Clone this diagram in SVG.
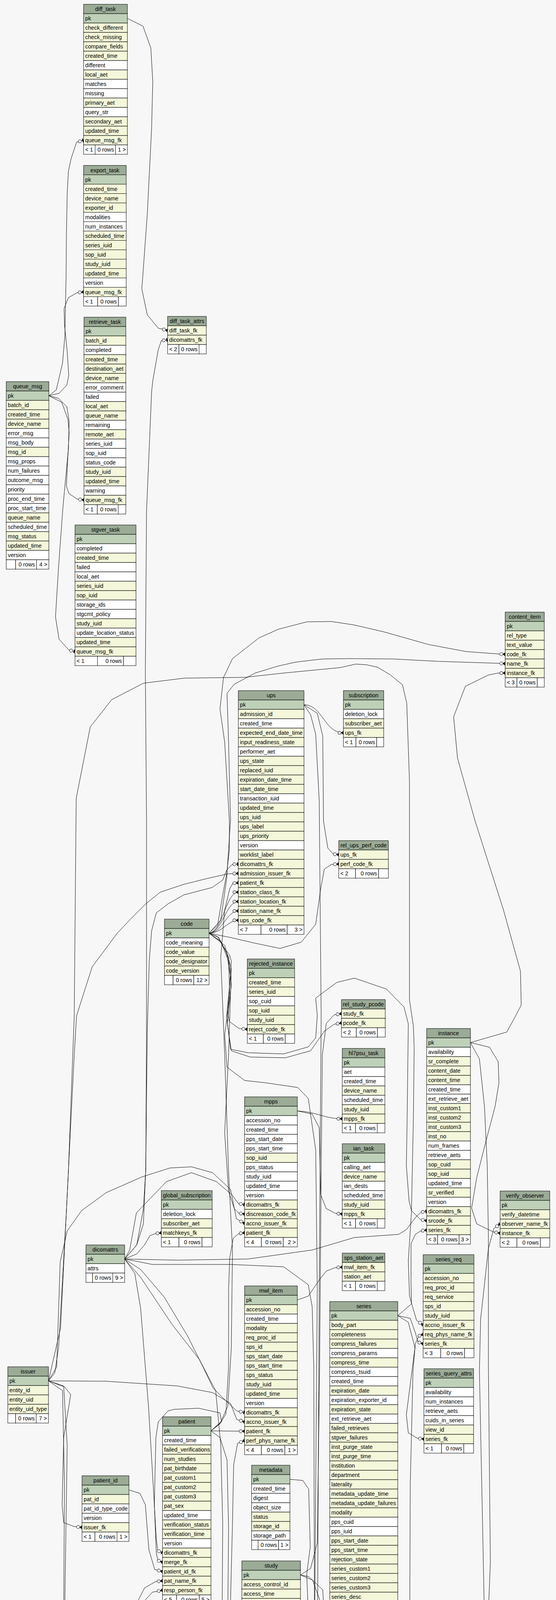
<svg xmlns="http://www.w3.org/2000/svg" width="1423" height="5169" viewBox="0 0 1423 5169">
<style>
.h{fill:#9bab96;stroke:#000;stroke-width:1}
.k{fill:#bed1b8;stroke:#000;stroke-width:1}
.y{fill:#f4f7da;stroke:#000;stroke-width:1}
.w{fill:#fff;stroke:#000;stroke-width:1}
text{font-family:"Liberation Sans",Arial,Helvetica,sans-serif;font-size:14.3px;fill:#000}
.c{text-anchor:middle}
.e{text-anchor:end}
#connectors path{fill:none;stroke:#000;stroke-width:1;stroke-linejoin:round}
</style>
<defs>
<marker id="crow" viewBox="-16 -7 17 14" refX="0" refY="0" markerWidth="17" markerHeight="14" orient="auto" markerUnits="userSpaceOnUse">
<circle cx="-10" cy="0" r="4" fill="#fff" stroke="#000"/>
<polygon points="-6,0 0,-4.5 -1.5,0 0,4.5" fill="#000" stroke="#000" stroke-width="0.8"/>
<path d="M-6,0 L0,0" fill="none" stroke="#000"/>
</marker>
<marker id="tee" viewBox="-16 -7 17 14" refX="0" refY="0" markerWidth="17" markerHeight="14" orient="auto" markerUnits="userSpaceOnUse">
<circle cx="-10" cy="0" r="4" fill="#fff" stroke="#000"/>
<path d="M-6,0 L0,0" fill="none" stroke="#000"/>
<rect x="-3.2" y="-4.5" width="2.6" height="9" fill="#000"/>
</marker>
</defs>
<rect width="1423" height="5169" fill="#f7f7f7"/>
<g id="connectors">
<path marker-end="url(#tee)" d="M125,1013 L144,998 L160,930 L166,860 L169,713 L170,603 L172,494 L175,439 L182,406 L196,364 L214,359"/>
<path marker-end="url(#crow)" d="M125,1013 L151,1007 L171,986 L176,961 L172,900 L165,830 L164,790 L175,762 L198,749 L214,747.5"/>
<path marker-end="url(#crow)" d="M125,1013 L158,1030 L174,1074 L177,1107 L172,1200 L170,1244 L176,1263 L198,1278 L215,1280"/>
<path marker-end="url(#tee)" d="M125,1013 L150,1020 L171,1041 L177,1079 L175,1150 L161,1299 L150,1450 L142,1579 L151,1636 L176,1664 L192,1668"/>
<path marker-end="url(#crow)" d="M326,47 L366,67 L386,123 L391,208 L388,329 L377,548 L363,740 L377,806 L405,840 L429,846"/>
<path marker-end="url(#tee)" d="M319,3223 L350,3187 L367,3133 L373,2995 L375,2640 L375,2100 L372,1720 L375,1310 L388,1003 L391,975 L405,895 L413,872 L429,870"/>
<path marker-end="url(#tee)" d="M319,3223 L350,3187 L367,3095 L373,2995 L377,2636 L382,2460 L388,2383 L400,2337 L430,2314 L470,2291 L543,2272 L570,2253 L580,2228 L594,2213 L610,2212"/>
<path marker-end="url(#crow)" d="M124,3535 L140,3515 L150,3450 L170,3100 L190,2700 L196,2600 L236,2475 L300,2389 L338,2349 L373,2314 L410,2284 L470,2264 L530,2249 L583,2237 L610,2236"/>
<path marker-end="url(#crow)" d="M540,3663 L565,3640 L583,3600 L592,3450 L595,3200 L585,3000 L575,2700 L565,2450 L575,2330 L588,2275 L596,2261 L610,2260"/>
<path marker-end="url(#crow)" d="M535,2389 C570,2385 578,2284 610,2284"/>
<path marker-end="url(#crow)" d="M535,2389 C570,2385 578,2308 610,2308"/>
<path marker-end="url(#crow)" d="M535,2389 C570,2387 580,2332 610,2332"/>
<path marker-end="url(#crow)" d="M535,2389 C570,2388 582,2356 610,2356"/>
<path marker-end="url(#crow)" d="M778,1804 C825,1804 830,1876 879,1876"/>
<path marker-end="url(#crow)" d="M778,1804 L812,1826 L826,1884 L828,2102 L839,2171 L852,2186 L867,2188"/>
<path marker-end="url(#crow)" d="M535,2389 L590,2400 L650,2414 L717,2428 L771,2412 L808,2366 L821,2274 L830,2225 L848,2213 L867,2212"/>
<path marker-end="url(#crow)" d="M778,1804 L795,1830 L808,1880 L817,2050 L822,2600 L817,3300 L812,4300 L825,4650 L848,4900 L853,5020 L856,5070 L866,5080"/>
<path marker-end="url(#crow)" d="M535,2389 L557,2368 L570,2291 L580,2238 L587,2177 L587,2100 L575,1900 L563,1815 L572,1734 L579,1720 L595,1686 L663,1633 L712,1611 L785,1592 L848,1591 L907,1600 L984,1618 L1097,1650 L1193,1668 L1274,1674 L1293,1675"/>
<path marker-end="url(#crow)" d="M535,2389 L565,2355 L580,2250 L590,2100 L585,1900 L581,1775 L599,1752 L653,1723 L712,1705 L757,1695 L825,1687 L893,1686 L1007,1687 L1120,1693 L1274,1698 L1293,1699"/>
<path marker-end="url(#crow)" d="M1204,2669 L1297,2642 L1320,2600 L1334,2573 L1332,2486 L1289,2331 L1216,2102 L1171,1941 L1161,1835 L1191,1757 L1250,1728 L1275,1723 L1293,1723"/>
<path marker-end="url(#crow)" d="M535,2389 L557,2398 L570,2421 L587,2444 L592,2460 L583,2590 L587,2615 L612,2633 L633,2635"/>
<path marker-end="url(#crow)" d="M769,4032 L795,4015 L812,3950 L818,3500 L822,3000 L825,2700 L835,2620 L855,2598 L874,2595"/>
<path marker-end="url(#crow)" d="M535,2389 L565,2410 L585,2450 L592,2520 L582,2620 L592,2690 L640,2706 L730,2708 L795,2690 L830,2640 L855,2622 L874,2619"/>
<path marker-end="url(#crow)" d="M761,2844 C810,2846 830,2864 876,2864"/>
<path marker-end="url(#crow)" d="M761,2844 L799,2852 L817,2887 L821,3059 L835,3094 L858,3106 L876,3108"/>
<path marker-end="url(#tee)" d="M319,3223 L332,3200 L349,3105 L426,3025 L490,3002 L554,3025 L594,3059 L610,3081 L626,3084"/>
<path marker-end="url(#crow)" d="M535,2389 L575,2420 L592,2480 L585,2700 L575,2900 L585,3050 L600,3095 L612,3106 L626,3108"/>
<path marker-end="url(#crow)" d="M124,3535 L145,3500 L154,3231 L172,3151 L209,3099 L272,3053 L363,3013 L435,2990 L490,2987 L544,3002 L590,3045 L605,3120 L626,3132"/>
<path marker-end="url(#crow)" d="M540,3663 L563,3645 L578,3620 L585,3500 L585,3300 L588,3220 L597,3170 L611,3158 L626,3156"/>
<path marker-end="url(#crow)" d="M319,3223 L350,3210 L370,3187 L383,3164 L397,3158 L413,3156"/>
<path marker-end="url(#tee)" d="M319,3223 L454,3226 L635,3223 L799,3200 L907,3168 L1020,3160 L1040,3148 L1063,3117 L1078,3103 L1092,3101"/>
<path marker-end="url(#crow)" d="M535,2389 L560,2400 L580,2440 L590,2500 L580,2600 L590,2686 L635,2695 L726,2698 L789,2680 L808,2657 L812,2600 L808,2555 L862,2515 L907,2504 L989,2532 L1034,2578 L1045,2621 L1042,2863 L1040,2984 L1047,3075 L1053,3099 L1076,3122 L1092,3125"/>
<path marker-end="url(#crow)" d="M1018,3368 L1053,3338 L1052,3287 L1052,3184 L1063,3160 L1077,3151 L1092,3149"/>
<path marker-end="url(#crow)" d="M325,4483 L358,4522 L380,4600 L400,4640 L440,4670 L540,4690 L575,4720 L588,4800 L600,4818 L817,4832 L1030,4830 L1053,4800 L1134,4716 L1200,4633 L1230,4550 L1234,4466 L1243,4300 L1235,3900 L1227,3510 L1230,3378 L1250,3196 L1264,3145 L1280,3133"/>
<path marker-end="url(#crow)" d="M1204,2669 L1253,2681 L1275,2718 L1277,2772 L1267,2833 L1243,2924 L1220,3015 L1207,3093 L1220,3133 L1263,3154 L1280,3157"/>
<path marker-end="url(#crow)" d="M761,3328 L789,3318 L817,3277 L835,3254 L858,3245 L876,3244"/>
<path marker-end="url(#crow)" d="M124,3535 L155,3400 L175,3000 L190,2600 L195,2044 L231,1861 L286,1791 L367,1749 L472,1736 L626,1734 L726,1723 L871,1709 L911,1700 L939,1702 L966,1708 L998,1727 L1030,1753 L1041,1800 L1048,2000 L1048,2560 L1058,2627 L1060,2681 L1058,2863 L1053,3105 L1045,3227 L1048,3318 L1066,3380 L1083,3392"/>
<path marker-end="url(#crow)" d="M325,4483 L358,4522 L377,4610 L417,4633 L460,4677 L490,4682 L545,4688 L581,4715 L590,4800 L599,4812 L690,4818 L908,4820 L1016,4800 L1034,4788 L1048,4300 L1050,3800 L1057,3510 L1063,3440 L1072,3420 L1083,3416"/>
<path marker-end="url(#crow)" d="M1018,3368 L1050,3375 L1063,3412 L1070,3436 L1083,3440"/>
<path marker-end="url(#tee)" d="M319,3223 L360,3250 L420,3320 L480,3420 L520,3500 L545,3553 L580,3588 L606,3612 L626,3616"/>
<path marker-end="url(#crow)" d="M124,3535 L272,3536 L454,3548 L544,3565 L590,3593 L606,3634 L626,3640"/>
<path marker-end="url(#crow)" d="M540,3663 L626,3664"/>
<path marker-end="url(#crow)" d="M325,4483 L363,4472 L411,4462 L450,4433 L479,4380 L581,4300 L590,4100 L595,3900 L598,3750 L608,3695 L626,3688"/>
<path marker-end="url(#tee)" d="M319,3223 L390,3237 L590,3237 L726,3243 L789,3289 L799,3346 L803,3500 L805,4200 L815,4320 L828,4348 L844,4352"/>
<path marker-end="url(#crow)" d="M535,2389 L565,2410 L585,2460 L588,2550 L575,2650 L581,2732 L626,2766 L680,2772 L762,2784 L789,2812 L808,2944 L812,3300 L808,3800 L805,4200 L812,4340 L826,4372 L844,4376"/>
<path marker-end="url(#crow)" d="M742,3787 L775,3790 L790,3812 L794,3960 L785,4030 L790,4150 L800,4300 L810,4370 L828,4396 L844,4400"/>
<path marker-end="url(#crow)" d="M325,4483 L353,4491 L370,4525 L382,4613 L375,4750 L370,4880 L385,4950 L402,4962 L528,4918 L625,4889 L722,4831 L785,4748 L809,4642 L819,4501 L826,4440 L832,4426 L844,4424"/>
<path marker-end="url(#crow)" d="M769,4032 L790,4036 L826,4070 L830,4139 L826,4282 L830,4350 L824,4400 L828,4440 L844,4448"/>
<path marker-end="url(#crow)" d="M1018,3368 L1045,3385 L1062,3450 L1040,3622 L1045,3668 L1068,3682 L1085,3684"/>
<path marker-end="url(#tee)" d="M319,3223 L345,3260 L360,3350 L368,3450 L380,3600 L392,3800 L400,3940 L404,3970 L416,3975"/>
<path marker-end="url(#crow)" d="M540,3663 L567,3640 L563,3617 L508,3605 L445,3608 L430,3612 L405,3640 L399,3680 L395,3852 L400,3975 L404,3995 L416,3999"/>
<path marker-end="url(#crow)" d="M330,3814 L358,3823 L372,3852 L381,3967 L396,4018 L416,4023"/>
<path marker-end="url(#crow)" d="M325,4483 L368,4472 L382,4443 L392,4409 L390,4380 L381,4355 L363,4300 L349,4150 L352,4100 L370,4065 L398,4049 L416,4047"/>
<path marker-end="url(#crow)" d="M325,4483 L360,4470 L385,4420 L380,4350 L366,4250 L360,4150 L368,4100 L390,4076 L416,4071"/>
<path marker-end="url(#crow)" d="M124,3535 L163,3548 L181,3570 L163,3680 L159,3852 L163,3898 L190,3908 L210,3910"/>
<path marker-end="url(#tee)" d="M319,3223 L360,3270 L440,3390 L510,3480 L552,3560 L565,3700 L570,3900 L567,4380 L567,4525 L576,4583 L596,4622 L619,4632"/>
<path marker-end="url(#crow)" d="M124,3535 L163,3550 L172,3700 L163,4300 L165,4800 L179,4894 L237,4937 L334,4971 L402,4965 L470,4948 L548,4895 L580,4830 L596,4740 L602,4675 L619,4656"/>
<path marker-end="url(#crow)" d="M540,3663 L563,3680 L581,3737 L585,3910 L581,4350 L585,4580 L596,4650 L604,4676 L619,4680"/>
<path marker-end="url(#crow)" d="M325,4483 L431,4520 L479,4564 L528,4608 L566,4642 L586,4680 L603,4700 L619,4704"/>
<path marker-end="url(#crow)" d="M1204,2669 L1227,2711 L1240,2833 L1247,2984 L1250,3166 L1250,3500 L1255,4000 L1243,4300 L1250,4400 L1275,4462 L1294,4472"/>
<path marker-end="url(#crow)" d="M1197,4912 L1239,4899 L1261,4876 L1266,4800 L1225,4577 L1230,4510 L1270,4498 L1294,4496"/>
<path marker-end="url(#crow)" d="M325,4483 L368,4500 L392,4525 L395,4574 L380,4650 L368,4719 L356,4792 L368,4826 L400,4842 L416,4844"/>
<path marker-end="url(#crow)" d="M769,4032 L800,4045 L820,4100 L825,4300 L815,4500 L818,4650 L830,4710 L850,4736 L870,4740"/>
<path marker-end="url(#crow)" d="M124,3535 L160,3560 L165,3800 L162,4300 L162,4816 L167,4923 L179,4976 L237,5025 L324,5073 L421,5078 L600,5064 L722,5039 L850,5032 L866,5032"/>
<path marker-end="url(#crow)" d="M325,4483 L353,4491 L372,4530 L380,4650 L372,4800 L375,4900 L390,4960 L420,4990 L480,5020 L605,5060 L850,5055 L866,5056"/>
</g>
<g id="diff_task" transform="translate(214,11)">
<rect class="h" width="112" height="24"/><text class="c" x="56" y="17">diff_task</text>
<rect class="k" y="24" width="112" height="24"/><text x="4" y="41">pk</text>
<rect class="y" y="48" width="112" height="24"/><text x="4" y="65">check_different</text>
<rect class="y" y="72" width="112" height="24"/><text x="4" y="89">check_missing</text>
<rect class="y" y="96" width="112" height="24"/><text x="4" y="113">compare_fields</text>
<rect class="y" y="120" width="112" height="24"/><text x="4" y="137">created_time</text>
<rect class="w" y="144" width="112" height="24"/><text x="4" y="161">different</text>
<rect class="y" y="168" width="112" height="24"/><text x="4" y="185">local_aet</text>
<rect class="w" y="192" width="112" height="24"/><text x="4" y="209">matches</text>
<rect class="w" y="216" width="112" height="24"/><text x="4" y="233">missing</text>
<rect class="y" y="240" width="112" height="24"/><text x="4" y="257">primary_aet</text>
<rect class="w" y="264" width="112" height="24"/><text x="4" y="281">query_str</text>
<rect class="y" y="288" width="112" height="24"/><text x="4" y="305">secondary_aet</text>
<rect class="y" y="312" width="112" height="24"/><text x="4" y="329">updated_time</text>
<rect class="y" y="336" width="112" height="24"/><text x="4" y="353">queue_msg_fk</text>
<rect class="w" y="360" width="29.5" height="24"/><rect class="w" x="29.5" y="360" width="52.1" height="24"/><rect class="w" x="81.6" y="360" width="30.4" height="24"/>
<text x="4" y="377">&lt; 1</text><text class="e" x="77.6" y="377">0 rows</text><text class="e" x="108" y="377">1 &gt;</text>
</g>
<g id="export_task" transform="translate(214,423.5)">
<rect class="h" width="109" height="24"/><text class="c" x="54.5" y="17">export_task</text>
<rect class="k" y="24" width="109" height="24"/><text x="4" y="41">pk</text>
<rect class="y" y="48" width="109" height="24"/><text x="4" y="65">created_time</text>
<rect class="y" y="72" width="109" height="24"/><text x="4" y="89">device_name</text>
<rect class="y" y="96" width="109" height="24"/><text x="4" y="113">exporter_id</text>
<rect class="w" y="120" width="109" height="24"/><text x="4" y="137">modalities</text>
<rect class="w" y="144" width="109" height="24"/><text x="4" y="161">num_instances</text>
<rect class="y" y="168" width="109" height="24"/><text x="4" y="185">scheduled_time</text>
<rect class="y" y="192" width="109" height="24"/><text x="4" y="209">series_iuid</text>
<rect class="y" y="216" width="109" height="24"/><text x="4" y="233">sop_iuid</text>
<rect class="y" y="240" width="109" height="24"/><text x="4" y="257">study_iuid</text>
<rect class="y" y="264" width="109" height="24"/><text x="4" y="281">updated_time</text>
<rect class="w" y="288" width="109" height="24"/><text x="4" y="305">version</text>
<rect class="y" y="312" width="109" height="24"/><text x="4" y="329">queue_msg_fk</text>
<rect class="w" y="336" width="36" height="24"/><rect class="w" x="36" y="336" width="53" height="24"/><rect class="w" x="89" y="336" width="20" height="24"/>
<text x="4" y="353">&lt; 1</text><text class="e" x="85" y="353">0 rows</text>
</g>
<g id="retrieve_task" transform="translate(215,812)">
<rect class="h" width="107" height="24"/><text class="c" x="53.5" y="17">retrieve_task</text>
<rect class="k" y="24" width="107" height="24"/><text x="4" y="41">pk</text>
<rect class="y" y="48" width="107" height="24"/><text x="4" y="65">batch_id</text>
<rect class="w" y="72" width="107" height="24"/><text x="4" y="89">completed</text>
<rect class="y" y="96" width="107" height="24"/><text x="4" y="113">created_time</text>
<rect class="y" y="120" width="107" height="24"/><text x="4" y="137">destination_aet</text>
<rect class="y" y="144" width="107" height="24"/><text x="4" y="161">device_name</text>
<rect class="w" y="168" width="107" height="24"/><text x="4" y="185">error_comment</text>
<rect class="w" y="192" width="107" height="24"/><text x="4" y="209">failed</text>
<rect class="y" y="216" width="107" height="24"/><text x="4" y="233">local_aet</text>
<rect class="y" y="240" width="107" height="24"/><text x="4" y="257">queue_name</text>
<rect class="w" y="264" width="107" height="24"/><text x="4" y="281">remaining</text>
<rect class="y" y="288" width="107" height="24"/><text x="4" y="305">remote_aet</text>
<rect class="w" y="312" width="107" height="24"/><text x="4" y="329">series_iuid</text>
<rect class="w" y="336" width="107" height="24"/><text x="4" y="353">sop_iuid</text>
<rect class="w" y="360" width="107" height="24"/><text x="4" y="377">status_code</text>
<rect class="y" y="384" width="107" height="24"/><text x="4" y="401">study_iuid</text>
<rect class="y" y="408" width="107" height="24"/><text x="4" y="425">updated_time</text>
<rect class="w" y="432" width="107" height="24"/><text x="4" y="449">warning</text>
<rect class="y" y="456" width="107" height="24"/><text x="4" y="473">queue_msg_fk</text>
<rect class="w" y="480" width="34" height="24"/><rect class="w" x="34" y="480" width="53.5" height="24"/><rect class="w" x="87.5" y="480" width="19.5" height="24"/>
<text x="4" y="497">&lt; 1</text><text class="e" x="83.5" y="497">0 rows</text>
</g>
<g id="diff_task_attrs" transform="translate(429,810)">
<rect class="h" width="99" height="24"/><text class="c" x="49.5" y="17">diff_task_attrs</text>
<rect class="y" y="24" width="99" height="24"/><text x="4" y="41">diff_task_fk</text>
<rect class="y" y="48" width="99" height="24"/><text x="4" y="65">dicomattrs_fk</text>
<rect class="w" y="72" width="29" height="24"/><rect class="w" x="29" y="72" width="51.5" height="24"/><rect class="w" x="80.5" y="72" width="18.5" height="24"/>
<text x="4" y="89">&lt; 2</text><text class="e" x="76.5" y="89">0 rows</text>
</g>
<g id="queue_msg" transform="translate(16,977)">
<rect class="h" width="109" height="24"/><text class="c" x="54.5" y="17">queue_msg</text>
<rect class="k" y="24" width="109" height="24"/><text x="4" y="41">pk</text>
<rect class="y" y="48" width="109" height="24"/><text x="4" y="65">batch_id</text>
<rect class="y" y="72" width="109" height="24"/><text x="4" y="89">created_time</text>
<rect class="y" y="96" width="109" height="24"/><text x="4" y="113">device_name</text>
<rect class="w" y="120" width="109" height="24"/><text x="4" y="137">error_msg</text>
<rect class="w" y="144" width="109" height="24"/><text x="4" y="161">msg_body</text>
<rect class="y" y="168" width="109" height="24"/><text x="4" y="185">msg_id</text>
<rect class="w" y="192" width="109" height="24"/><text x="4" y="209">msg_props</text>
<rect class="w" y="216" width="109" height="24"/><text x="4" y="233">num_failures</text>
<rect class="w" y="240" width="109" height="24"/><text x="4" y="257">outcome_msg</text>
<rect class="w" y="264" width="109" height="24"/><text x="4" y="281">priority</text>
<rect class="w" y="288" width="109" height="24"/><text x="4" y="305">proc_end_time</text>
<rect class="w" y="312" width="109" height="24"/><text x="4" y="329">proc_start_time</text>
<rect class="y" y="336" width="109" height="24"/><text x="4" y="353">queue_name</text>
<rect class="w" y="360" width="109" height="24"/><text x="4" y="377">scheduled_time</text>
<rect class="y" y="384" width="109" height="24"/><text x="4" y="401">msg_status</text>
<rect class="y" y="408" width="109" height="24"/><text x="4" y="425">updated_time</text>
<rect class="w" y="432" width="109" height="24"/><text x="4" y="449">version</text>
<rect class="w" y="456" width="24" height="24"/><rect class="w" x="24" y="456" width="53.5" height="24"/><rect class="w" x="77.5" y="456" width="31.5" height="24"/>
<text class="e" x="73.5" y="473">0 rows</text><text class="e" x="105" y="473">4 &gt;</text>
</g>
<g id="stgver_task" transform="translate(192,1344)">
<rect class="h" width="156" height="24"/><text class="c" x="78" y="17">stgver_task</text>
<rect class="k" y="24" width="156" height="24"/><text x="4" y="41">pk</text>
<rect class="w" y="48" width="156" height="24"/><text x="4" y="65">completed</text>
<rect class="y" y="72" width="156" height="24"/><text x="4" y="89">created_time</text>
<rect class="w" y="96" width="156" height="24"/><text x="4" y="113">failed</text>
<rect class="w" y="120" width="156" height="24"/><text x="4" y="137">local_aet</text>
<rect class="y" y="144" width="156" height="24"/><text x="4" y="161">series_iuid</text>
<rect class="y" y="168" width="156" height="24"/><text x="4" y="185">sop_iuid</text>
<rect class="w" y="192" width="156" height="24"/><text x="4" y="209">storage_ids</text>
<rect class="w" y="216" width="156" height="24"/><text x="4" y="233">stgcmt_policy</text>
<rect class="y" y="240" width="156" height="24"/><text x="4" y="257">study_iuid</text>
<rect class="w" y="264" width="156" height="24"/><text x="4" y="281">update_location_status</text>
<rect class="y" y="288" width="156" height="24"/><text x="4" y="305">updated_time</text>
<rect class="y" y="312" width="156" height="24"/><text x="4" y="329">queue_msg_fk</text>
<rect class="w" y="336" width="57.5" height="24"/><rect class="w" x="57.5" y="336" width="66.5" height="24"/><rect class="w" x="124" y="336" width="32" height="24"/>
<text x="4" y="353">&lt; 1</text><text class="e" x="120" y="353">0 rows</text>
</g>
<g id="ups" transform="translate(610,1768)">
<rect class="h" width="168" height="24"/><text class="c" x="84" y="17">ups</text>
<rect class="k" y="24" width="168" height="24"/><text x="4" y="41">pk</text>
<rect class="y" y="48" width="168" height="24"/><text x="4" y="65">admission_id</text>
<rect class="w" y="72" width="168" height="24"/><text x="4" y="89">created_time</text>
<rect class="y" y="96" width="168" height="24"/><text x="4" y="113">expected_end_date_time</text>
<rect class="y" y="120" width="168" height="24"/><text x="4" y="137">input_readiness_state</text>
<rect class="w" y="144" width="168" height="24"/><text x="4" y="161">performer_aet</text>
<rect class="y" y="168" width="168" height="24"/><text x="4" y="185">ups_state</text>
<rect class="y" y="192" width="168" height="24"/><text x="4" y="209">replaced_iuid</text>
<rect class="y" y="216" width="168" height="24"/><text x="4" y="233">expiration_date_time</text>
<rect class="y" y="240" width="168" height="24"/><text x="4" y="257">start_date_time</text>
<rect class="w" y="264" width="168" height="24"/><text x="4" y="281">transaction_iuid</text>
<rect class="y" y="288" width="168" height="24"/><text x="4" y="305">updated_time</text>
<rect class="y" y="312" width="168" height="24"/><text x="4" y="329">ups_iuid</text>
<rect class="y" y="336" width="168" height="24"/><text x="4" y="353">ups_label</text>
<rect class="y" y="360" width="168" height="24"/><text x="4" y="377">ups_priority</text>
<rect class="w" y="384" width="168" height="24"/><text x="4" y="401">version</text>
<rect class="y" y="408" width="168" height="24"/><text x="4" y="425">worklist_label</text>
<rect class="y" y="432" width="168" height="24"/><text x="4" y="449">dicomattrs_fk</text>
<rect class="y" y="456" width="168" height="24"/><text x="4" y="473">admission_issuer_fk</text>
<rect class="y" y="480" width="168" height="24"/><text x="4" y="497">patient_fk</text>
<rect class="y" y="504" width="168" height="24"/><text x="4" y="521">station_class_fk</text>
<rect class="y" y="528" width="168" height="24"/><text x="4" y="545">station_location_fk</text>
<rect class="y" y="552" width="168" height="24"/><text x="4" y="569">station_name_fk</text>
<rect class="y" y="576" width="168" height="24"/><text x="4" y="593">ups_code_fk</text>
<rect class="w" y="600" width="58" height="24"/><rect class="w" x="58" y="600" width="67" height="24"/><rect class="w" x="125" y="600" width="43" height="24"/>
<text x="4" y="617">&lt; 7</text><text class="e" x="121" y="617">0 rows</text><text class="e" x="164" y="617">3 &gt;</text>
</g>
<g id="subscription" transform="translate(879,1768)">
<rect class="h" width="103" height="24"/><text class="c" x="51.5" y="17">subscription</text>
<rect class="k" y="24" width="103" height="24"/><text x="4" y="41">pk</text>
<rect class="w" y="48" width="103" height="24"/><text x="4" y="65">deletion_lock</text>
<rect class="y" y="72" width="103" height="24"/><text x="4" y="89">subscriber_aet</text>
<rect class="y" y="96" width="103" height="24"/><text x="4" y="113">ups_fk</text>
<rect class="w" y="120" width="32" height="24"/><rect class="w" x="32" y="120" width="53" height="24"/><rect class="w" x="85" y="120" width="18" height="24"/>
<text x="4" y="137">&lt; 1</text><text class="e" x="81" y="137">0 rows</text>
</g>
<g id="rel_ups_perf_code" transform="translate(867,2152)">
<rect class="h" width="127" height="24"/><text class="c" x="63.5" y="17">rel_ups_perf_code</text>
<rect class="y" y="24" width="127" height="24"/><text x="4" y="41">ups_fk</text>
<rect class="y" y="48" width="127" height="24"/><text x="4" y="65">perf_code_fk</text>
<rect class="w" y="72" width="43" height="24"/><rect class="w" x="43" y="72" width="59" height="24"/><rect class="w" x="102" y="72" width="25" height="24"/>
<text x="4" y="89">&lt; 2</text><text class="e" x="98" y="89">0 rows</text>
</g>
<g id="code" transform="translate(421,2353)">
<rect class="h" width="114" height="24"/><text class="c" x="57" y="17">code</text>
<rect class="k" y="24" width="114" height="24"/><text x="4" y="41">pk</text>
<rect class="w" y="48" width="114" height="24"/><text x="4" y="65">code_meaning</text>
<rect class="y" y="72" width="114" height="24"/><text x="4" y="89">code_value</text>
<rect class="y" y="96" width="114" height="24"/><text x="4" y="113">code_designator</text>
<rect class="y" y="120" width="114" height="24"/><text x="4" y="137">code_version</text>
<rect class="w" y="144" width="22" height="24"/><rect class="w" x="22" y="144" width="53" height="24"/><rect class="w" x="75" y="144" width="39" height="24"/>
<text class="e" x="71" y="161">0 rows</text><text class="e" x="110" y="161">12 &gt;</text>
</g>
<g id="content_item" transform="translate(1293,1567)">
<rect class="h" width="100" height="24"/><text class="c" x="50" y="17">content_item</text>
<rect class="k" y="24" width="100" height="24"/><text x="4" y="41">pk</text>
<rect class="y" y="48" width="100" height="24"/><text x="4" y="65">rel_type</text>
<rect class="y" y="72" width="100" height="24"/><text x="4" y="89">text_value</text>
<rect class="y" y="96" width="100" height="24"/><text x="4" y="113">code_fk</text>
<rect class="y" y="120" width="100" height="24"/><text x="4" y="137">name_fk</text>
<rect class="y" y="144" width="100" height="24"/><text x="4" y="161">instance_fk</text>
<rect class="w" y="168" width="30" height="24"/><rect class="w" x="30" y="168" width="52" height="24"/><rect class="w" x="82" y="168" width="18" height="24"/>
<text x="4" y="185">&lt; 3</text><text class="e" x="78" y="185">0 rows</text>
</g>
<g id="rejected_instance" transform="translate(633,2455)">
<rect class="h" width="121" height="24"/><text class="c" x="60.5" y="17">rejected_instance</text>
<rect class="k" y="24" width="121" height="24"/><text x="4" y="41">pk</text>
<rect class="y" y="48" width="121" height="24"/><text x="4" y="65">created_time</text>
<rect class="y" y="72" width="121" height="24"/><text x="4" y="89">series_iuid</text>
<rect class="w" y="96" width="121" height="24"/><text x="4" y="113">sop_cuid</text>
<rect class="y" y="120" width="121" height="24"/><text x="4" y="137">sop_iuid</text>
<rect class="y" y="144" width="121" height="24"/><text x="4" y="161">study_iuid</text>
<rect class="y" y="168" width="121" height="24"/><text x="4" y="185">reject_code_fk</text>
<rect class="w" y="192" width="41" height="24"/><rect class="w" x="41" y="192" width="56" height="24"/><rect class="w" x="97" y="192" width="24" height="24"/>
<text x="4" y="209">&lt; 1</text><text class="e" x="93" y="209">0 rows</text>
</g>
<g id="rel_study_pcode" transform="translate(874,2559)">
<rect class="h" width="112" height="24"/><text class="c" x="56" y="17">rel_study_pcode</text>
<rect class="y" y="24" width="112" height="24"/><text x="4" y="41">study_fk</text>
<rect class="y" y="48" width="112" height="24"/><text x="4" y="65">pcode_fk</text>
<rect class="w" y="72" width="38" height="24"/><rect class="w" x="38" y="72" width="54" height="24"/><rect class="w" x="92" y="72" width="20" height="24"/>
<text x="4" y="89">&lt; 2</text><text class="e" x="88" y="89">0 rows</text>
</g>
<g id="hl7psu_task" transform="translate(876,2684)">
<rect class="h" width="109" height="24"/><text class="c" x="54.5" y="17">hl7psu_task</text>
<rect class="k" y="24" width="109" height="24"/><text x="4" y="41">pk</text>
<rect class="w" y="48" width="109" height="24"/><text x="4" y="65">aet</text>
<rect class="w" y="72" width="109" height="24"/><text x="4" y="89">created_time</text>
<rect class="y" y="96" width="109" height="24"/><text x="4" y="113">device_name</text>
<rect class="w" y="120" width="109" height="24"/><text x="4" y="137">scheduled_time</text>
<rect class="y" y="144" width="109" height="24"/><text x="4" y="161">study_iuid</text>
<rect class="y" y="168" width="109" height="24"/><text x="4" y="185">mpps_fk</text>
<rect class="w" y="192" width="34" height="24"/><rect class="w" x="34" y="192" width="55.5" height="24"/><rect class="w" x="89.5" y="192" width="19.5" height="24"/>
<text x="4" y="209">&lt; 1</text><text class="e" x="85.5" y="209">0 rows</text>
</g>
<g id="ian_task" transform="translate(876,2928)">
<rect class="h" width="109" height="24"/><text class="c" x="54.5" y="17">ian_task</text>
<rect class="k" y="24" width="109" height="24"/><text x="4" y="41">pk</text>
<rect class="w" y="48" width="109" height="24"/><text x="4" y="65">calling_aet</text>
<rect class="y" y="72" width="109" height="24"/><text x="4" y="89">device_name</text>
<rect class="w" y="96" width="109" height="24"/><text x="4" y="113">ian_dests</text>
<rect class="w" y="120" width="109" height="24"/><text x="4" y="137">scheduled_time</text>
<rect class="y" y="144" width="109" height="24"/><text x="4" y="161">study_iuid</text>
<rect class="y" y="168" width="109" height="24"/><text x="4" y="185">mpps_fk</text>
<rect class="w" y="192" width="34" height="24"/><rect class="w" x="34" y="192" width="55.5" height="24"/><rect class="w" x="89.5" y="192" width="19.5" height="24"/>
<text x="4" y="209">&lt; 1</text><text class="e" x="85.5" y="209">0 rows</text>
</g>
<g id="mpps" transform="translate(626,2808)">
<rect class="h" width="135" height="24"/><text class="c" x="67.5" y="17">mpps</text>
<rect class="k" y="24" width="135" height="24"/><text x="4" y="41">pk</text>
<rect class="w" y="48" width="135" height="24"/><text x="4" y="65">accession_no</text>
<rect class="w" y="72" width="135" height="24"/><text x="4" y="89">created_time</text>
<rect class="w" y="96" width="135" height="24"/><text x="4" y="113">pps_start_date</text>
<rect class="w" y="120" width="135" height="24"/><text x="4" y="137">pps_start_time</text>
<rect class="y" y="144" width="135" height="24"/><text x="4" y="161">sop_iuid</text>
<rect class="w" y="168" width="135" height="24"/><text x="4" y="185">pps_status</text>
<rect class="w" y="192" width="135" height="24"/><text x="4" y="209">study_iuid</text>
<rect class="w" y="216" width="135" height="24"/><text x="4" y="233">updated_time</text>
<rect class="w" y="240" width="135" height="24"/><text x="4" y="257">version</text>
<rect class="y" y="264" width="135" height="24"/><text x="4" y="281">dicomattrs_fk</text>
<rect class="y" y="288" width="135" height="24"/><text x="4" y="305">discreason_code_fk</text>
<rect class="y" y="312" width="135" height="24"/><text x="4" y="329">accno_issuer_fk</text>
<rect class="y" y="336" width="135" height="24"/><text x="4" y="353">patient_fk</text>
<rect class="w" y="360" width="43" height="24"/><rect class="w" x="43" y="360" width="56" height="24"/><rect class="w" x="99" y="360" width="36" height="24"/>
<text x="4" y="377">&lt; 4</text><text class="e" x="95" y="377">0 rows</text><text class="e" x="131" y="377">2 &gt;</text>
</g>
<g id="global_subscription" transform="translate(413,3048)">
<rect class="h" width="130" height="24"/><text class="c" x="65" y="17">global_subscription</text>
<rect class="k" y="24" width="130" height="24"/><text x="4" y="41">pk</text>
<rect class="w" y="48" width="130" height="24"/><text x="4" y="65">deletion_lock</text>
<rect class="y" y="72" width="130" height="24"/><text x="4" y="89">subscriber_aet</text>
<rect class="y" y="96" width="130" height="24"/><text x="4" y="113">matchkeys_fk</text>
<rect class="w" y="120" width="45" height="24"/><rect class="w" x="45" y="120" width="59" height="24"/><rect class="w" x="104" y="120" width="26" height="24"/>
<text x="4" y="137">&lt; 1</text><text class="e" x="100" y="137">0 rows</text>
</g>
<g id="dicomattrs" transform="translate(220,3187)">
<rect class="h" width="99" height="24"/><text class="c" x="49.5" y="17">dicomattrs</text>
<rect class="k" y="24" width="99" height="24"/><text x="4" y="41">pk</text>
<rect class="w" y="48" width="99" height="24"/><text x="4" y="65">attrs</text>
<rect class="w" y="72" width="17" height="24"/><rect class="w" x="17" y="72" width="51.6" height="24"/><rect class="w" x="68.6" y="72" width="30.4" height="24"/>
<text class="e" x="64.6" y="89">0 rows</text><text class="e" x="95" y="89">9 &gt;</text>
</g>
<g id="instance" transform="translate(1092,2633)">
<rect class="h" width="112" height="24"/><text class="c" x="56" y="17">instance</text>
<rect class="k" y="24" width="112" height="24"/><text x="4" y="41">pk</text>
<rect class="w" y="48" width="112" height="24"/><text x="4" y="65">availability</text>
<rect class="y" y="72" width="112" height="24"/><text x="4" y="89">sr_complete</text>
<rect class="y" y="96" width="112" height="24"/><text x="4" y="113">content_date</text>
<rect class="y" y="120" width="112" height="24"/><text x="4" y="137">content_time</text>
<rect class="w" y="144" width="112" height="24"/><text x="4" y="161">created_time</text>
<rect class="w" y="168" width="112" height="24"/><text x="4" y="185">ext_retrieve_aet</text>
<rect class="y" y="192" width="112" height="24"/><text x="4" y="209">inst_custom1</text>
<rect class="y" y="216" width="112" height="24"/><text x="4" y="233">inst_custom2</text>
<rect class="y" y="240" width="112" height="24"/><text x="4" y="257">inst_custom3</text>
<rect class="y" y="264" width="112" height="24"/><text x="4" y="281">inst_no</text>
<rect class="w" y="288" width="112" height="24"/><text x="4" y="305">num_frames</text>
<rect class="w" y="312" width="112" height="24"/><text x="4" y="329">retrieve_aets</text>
<rect class="y" y="336" width="112" height="24"/><text x="4" y="353">sop_cuid</text>
<rect class="y" y="360" width="112" height="24"/><text x="4" y="377">sop_iuid</text>
<rect class="w" y="384" width="112" height="24"/><text x="4" y="401">updated_time</text>
<rect class="y" y="408" width="112" height="24"/><text x="4" y="425">sr_verified</text>
<rect class="w" y="432" width="112" height="24"/><text x="4" y="449">version</text>
<rect class="y" y="456" width="112" height="24"/><text x="4" y="473">dicomattrs_fk</text>
<rect class="y" y="480" width="112" height="24"/><text x="4" y="497">srcode_fk</text>
<rect class="y" y="504" width="112" height="24"/><text x="4" y="521">series_fk</text>
<rect class="w" y="528" width="28" height="24"/><rect class="w" x="28" y="528" width="55" height="24"/><rect class="w" x="83" y="528" width="29" height="24"/>
<text x="4" y="545">&lt; 3</text><text class="e" x="79" y="545">0 rows</text><text class="e" x="108" y="545">3 &gt;</text>
</g>
<g id="verify_observer" transform="translate(1280,3049)">
<rect class="h" width="127" height="24"/><text class="c" x="63.5" y="17">verify_observer</text>
<rect class="k" y="24" width="127" height="24"/><text x="4" y="41">pk</text>
<rect class="y" y="48" width="127" height="24"/><text x="4" y="65">verify_datetime</text>
<rect class="y" y="72" width="127" height="24"/><text x="4" y="89">observer_name_fk</text>
<rect class="y" y="96" width="127" height="24"/><text x="4" y="113">instance_fk</text>
<rect class="w" y="120" width="43" height="24"/><rect class="w" x="43" y="120" width="60" height="24"/><rect class="w" x="103" y="120" width="24" height="24"/>
<text x="4" y="137">&lt; 2</text><text class="e" x="99" y="137">0 rows</text>
</g>
<g id="sps_station_aet" transform="translate(876,3208)">
<rect class="h" width="109" height="24"/><text class="c" x="54.5" y="17">sps_station_aet</text>
<rect class="y" y="24" width="109" height="24"/><text x="4" y="41">mwl_item_fk</text>
<rect class="y" y="48" width="109" height="24"/><text x="4" y="65">station_aet</text>
<rect class="w" y="72" width="34" height="24"/><rect class="w" x="34" y="72" width="55.5" height="24"/><rect class="w" x="89.5" y="72" width="19.5" height="24"/>
<text x="4" y="89">&lt; 1</text><text class="e" x="85.5" y="89">0 rows</text>
</g>
<g id="series_req" transform="translate(1083,3212)">
<rect class="h" width="130" height="24"/><text class="c" x="65" y="17">series_req</text>
<rect class="k" y="24" width="130" height="24"/><text x="4" y="41">pk</text>
<rect class="y" y="48" width="130" height="24"/><text x="4" y="65">accession_no</text>
<rect class="y" y="72" width="130" height="24"/><text x="4" y="89">req_proc_id</text>
<rect class="y" y="96" width="130" height="24"/><text x="4" y="113">req_service</text>
<rect class="y" y="120" width="130" height="24"/><text x="4" y="137">sps_id</text>
<rect class="y" y="144" width="130" height="24"/><text x="4" y="161">study_iuid</text>
<rect class="y" y="168" width="130" height="24"/><text x="4" y="185">accno_issuer_fk</text>
<rect class="y" y="192" width="130" height="24"/><text x="4" y="209">req_phys_name_fk</text>
<rect class="y" y="216" width="130" height="24"/><text x="4" y="233">series_fk</text>
<rect class="w" y="240" width="45" height="24"/><rect class="w" x="45" y="240" width="61" height="24"/><rect class="w" x="106" y="240" width="24" height="24"/>
<text x="4" y="257">&lt; 3</text><text class="e" x="102" y="257">0 rows</text>
</g>
<g id="mwl_item" transform="translate(626,3292)">
<rect class="h" width="135" height="24"/><text class="c" x="67.5" y="17">mwl_item</text>
<rect class="k" y="24" width="135" height="24"/><text x="4" y="41">pk</text>
<rect class="y" y="48" width="135" height="24"/><text x="4" y="65">accession_no</text>
<rect class="w" y="72" width="135" height="24"/><text x="4" y="89">created_time</text>
<rect class="y" y="96" width="135" height="24"/><text x="4" y="113">modality</text>
<rect class="y" y="120" width="135" height="24"/><text x="4" y="137">req_proc_id</text>
<rect class="y" y="144" width="135" height="24"/><text x="4" y="161">sps_id</text>
<rect class="y" y="168" width="135" height="24"/><text x="4" y="185">sps_start_date</text>
<rect class="y" y="192" width="135" height="24"/><text x="4" y="209">sps_start_time</text>
<rect class="y" y="216" width="135" height="24"/><text x="4" y="233">sps_status</text>
<rect class="y" y="240" width="135" height="24"/><text x="4" y="257">study_iuid</text>
<rect class="y" y="264" width="135" height="24"/><text x="4" y="281">updated_time</text>
<rect class="w" y="288" width="135" height="24"/><text x="4" y="305">version</text>
<rect class="y" y="312" width="135" height="24"/><text x="4" y="329">dicomattrs_fk</text>
<rect class="y" y="336" width="135" height="24"/><text x="4" y="353">accno_issuer_fk</text>
<rect class="y" y="360" width="135" height="24"/><text x="4" y="377">patient_fk</text>
<rect class="y" y="384" width="135" height="24"/><text x="4" y="401">perf_phys_name_fk</text>
<rect class="w" y="408" width="43" height="24"/><rect class="w" x="43" y="408" width="60" height="24"/><rect class="w" x="103" y="408" width="32" height="24"/>
<text x="4" y="425">&lt; 4</text><text class="e" x="99" y="425">0 rows</text><text class="e" x="131" y="425">1 &gt;</text>
</g>
<g id="series" transform="translate(844,3332)">
<rect class="h" width="174" height="24"/><text class="c" x="87" y="17">series</text>
<rect class="k" y="24" width="174" height="24"/><text x="4" y="41">pk</text>
<rect class="y" y="48" width="174" height="24"/><text x="4" y="65">body_part</text>
<rect class="y" y="72" width="174" height="24"/><text x="4" y="89">completeness</text>
<rect class="y" y="96" width="174" height="24"/><text x="4" y="113">compress_failures</text>
<rect class="w" y="120" width="174" height="24"/><text x="4" y="137">compress_params</text>
<rect class="y" y="144" width="174" height="24"/><text x="4" y="161">compress_time</text>
<rect class="w" y="168" width="174" height="24"/><text x="4" y="185">compress_tsuid</text>
<rect class="w" y="192" width="174" height="24"/><text x="4" y="209">created_time</text>
<rect class="y" y="216" width="174" height="24"/><text x="4" y="233">expiration_date</text>
<rect class="w" y="240" width="174" height="24"/><text x="4" y="257">expiration_exporter_id</text>
<rect class="y" y="264" width="174" height="24"/><text x="4" y="281">expiration_state</text>
<rect class="w" y="288" width="174" height="24"/><text x="4" y="305">ext_retrieve_aet</text>
<rect class="y" y="312" width="174" height="24"/><text x="4" y="329">failed_retrieves</text>
<rect class="y" y="336" width="174" height="24"/><text x="4" y="353">stgver_failures</text>
<rect class="y" y="360" width="174" height="24"/><text x="4" y="377">inst_purge_state</text>
<rect class="y" y="384" width="174" height="24"/><text x="4" y="401">inst_purge_time</text>
<rect class="y" y="408" width="174" height="24"/><text x="4" y="425">institution</text>
<rect class="y" y="432" width="174" height="24"/><text x="4" y="449">department</text>
<rect class="y" y="456" width="174" height="24"/><text x="4" y="473">laterality</text>
<rect class="y" y="480" width="174" height="24"/><text x="4" y="497">metadata_update_time</text>
<rect class="y" y="504" width="174" height="24"/><text x="4" y="521">metadata_update_failures</text>
<rect class="y" y="528" width="174" height="24"/><text x="4" y="545">modality</text>
<rect class="w" y="552" width="174" height="24"/><text x="4" y="569">pps_cuid</text>
<rect class="w" y="576" width="174" height="24"/><text x="4" y="593">pps_iuid</text>
<rect class="y" y="600" width="174" height="24"/><text x="4" y="617">pps_start_date</text>
<rect class="y" y="624" width="174" height="24"/><text x="4" y="641">pps_start_time</text>
<rect class="y" y="648" width="174" height="24"/><text x="4" y="665">rejection_state</text>
<rect class="y" y="672" width="174" height="24"/><text x="4" y="689">series_custom1</text>
<rect class="y" y="696" width="174" height="24"/><text x="4" y="713">series_custom2</text>
<rect class="y" y="720" width="174" height="24"/><text x="4" y="737">series_custom3</text>
<rect class="y" y="744" width="174" height="24"/><text x="4" y="761">series_desc</text>
<rect class="y" y="768" width="174" height="24"/><text x="4" y="785">series_iuid</text>
<rect class="y" y="792" width="174" height="24"/><text x="4" y="809">series_no</text>
<rect class="w" y="816" width="174" height="24"/><text x="4" y="833">series_size</text>
<rect class="y" y="840" width="174" height="24"/><text x="4" y="857">sop_cuid</text>
<rect class="w" y="864" width="174" height="24"/><text x="4" y="881">src_aet</text>
<rect class="y" y="888" width="174" height="24"/><text x="4" y="905">station_name</text>
<rect class="y" y="912" width="174" height="24"/><text x="4" y="929">stgver_time</text>
<rect class="w" y="936" width="174" height="24"/><text x="4" y="953">tsuid</text>
<rect class="w" y="960" width="174" height="24"/><text x="4" y="977">updated_time</text>
<rect class="w" y="984" width="174" height="24"/><text x="4" y="1001">version</text>
<rect class="y" y="1008" width="174" height="24"/><text x="4" y="1025">dicomattrs_fk</text>
<rect class="y" y="1032" width="174" height="24"/><text x="4" y="1049">inst_code_fk</text>
<rect class="y" y="1056" width="174" height="24"/><text x="4" y="1073">metadata_fk</text>
<rect class="y" y="1080" width="174" height="24"/><text x="4" y="1097">perf_phys_name_fk</text>
<rect class="y" y="1104" width="174" height="24"/><text x="4" y="1121">study_fk</text>
<rect class="w" y="1128" width="61.6" height="24"/><rect class="w" x="61.6" y="1128" width="68.1" height="24"/><rect class="w" x="129.7" y="1128" width="44.3" height="24"/>
<text x="4" y="1145">&lt; 5</text><text class="e" x="125.7" y="1145">0 rows</text><text class="e" x="170" y="1145">3 &gt;</text>
</g>
<g id="series_query_attrs" transform="translate(1085,3504)">
<rect class="h" width="127" height="24"/><text class="c" x="63.5" y="17">series_query_attrs</text>
<rect class="k" y="24" width="127" height="24"/><text x="4" y="41">pk</text>
<rect class="w" y="48" width="127" height="24"/><text x="4" y="65">availability</text>
<rect class="w" y="72" width="127" height="24"/><text x="4" y="89">num_instances</text>
<rect class="w" y="96" width="127" height="24"/><text x="4" y="113">retrieve_aets</text>
<rect class="w" y="120" width="127" height="24"/><text x="4" y="137">cuids_in_series</text>
<rect class="y" y="144" width="127" height="24"/><text x="4" y="161">view_id</text>
<rect class="y" y="168" width="127" height="24"/><text x="4" y="185">series_fk</text>
<rect class="w" y="192" width="45" height="24"/><rect class="w" x="45" y="192" width="57" height="24"/><rect class="w" x="102" y="192" width="25" height="24"/>
<text x="4" y="209">&lt; 1</text><text class="e" x="98" y="209">0 rows</text>
</g>
<g id="issuer" transform="translate(20,3499)">
<rect class="h" width="104" height="24"/><text class="c" x="52" y="17">issuer</text>
<rect class="k" y="24" width="104" height="24"/><text x="4" y="41">pk</text>
<rect class="y" y="48" width="104" height="24"/><text x="4" y="65">entity_id</text>
<rect class="y" y="72" width="104" height="24"/><text x="4" y="89">entity_uid</text>
<rect class="y" y="96" width="104" height="24"/><text x="4" y="113">entity_uid_type</text>
<rect class="w" y="120" width="20" height="24"/><rect class="w" x="20" y="120" width="52.6" height="24"/><rect class="w" x="72.6" y="120" width="31.4" height="24"/>
<text class="e" x="68.6" y="137">0 rows</text><text class="e" x="100" y="137">7 &gt;</text>
</g>
<g id="patient" transform="translate(416,3627)">
<rect class="h" width="124" height="24"/><text class="c" x="62" y="17">patient</text>
<rect class="k" y="24" width="124" height="24"/><text x="4" y="41">pk</text>
<rect class="w" y="48" width="124" height="24"/><text x="4" y="65">created_time</text>
<rect class="y" y="72" width="124" height="24"/><text x="4" y="89">failed_verifications</text>
<rect class="y" y="96" width="124" height="24"/><text x="4" y="113">num_studies</text>
<rect class="y" y="120" width="124" height="24"/><text x="4" y="137">pat_birthdate</text>
<rect class="y" y="144" width="124" height="24"/><text x="4" y="161">pat_custom1</text>
<rect class="y" y="168" width="124" height="24"/><text x="4" y="185">pat_custom2</text>
<rect class="y" y="192" width="124" height="24"/><text x="4" y="209">pat_custom3</text>
<rect class="y" y="216" width="124" height="24"/><text x="4" y="233">pat_sex</text>
<rect class="w" y="240" width="124" height="24"/><text x="4" y="257">updated_time</text>
<rect class="y" y="264" width="124" height="24"/><text x="4" y="281">verification_status</text>
<rect class="y" y="288" width="124" height="24"/><text x="4" y="305">verification_time</text>
<rect class="w" y="312" width="124" height="24"/><text x="4" y="329">version</text>
<rect class="y" y="336" width="124" height="24"/><text x="4" y="353">dicomattrs_fk</text>
<rect class="y" y="360" width="124" height="24"/><text x="4" y="377">merge_fk</text>
<rect class="y" y="384" width="124" height="24"/><text x="4" y="401">patient_id_fk</text>
<rect class="y" y="408" width="124" height="24"/><text x="4" y="425">pat_name_fk</text>
<rect class="y" y="432" width="124" height="24"/><text x="4" y="449">resp_person_fk</text>
<rect class="w" y="456" width="36" height="24"/><rect class="w" x="36" y="456" width="58" height="24"/><rect class="w" x="94" y="456" width="30" height="24"/>
<text x="4" y="473">&lt; 5</text><text class="e" x="90" y="473">0 rows</text><text class="e" x="120" y="473">5 &gt;</text>
</g>
<g id="patient_id" transform="translate(210,3778)">
<rect class="h" width="120" height="24"/><text class="c" x="60" y="17">patient_id</text>
<rect class="k" y="24" width="120" height="24"/><text x="4" y="41">pk</text>
<rect class="y" y="48" width="120" height="24"/><text x="4" y="65">pat_id</text>
<rect class="w" y="72" width="120" height="24"/><text x="4" y="89">pat_id_type_code</text>
<rect class="w" y="96" width="120" height="24"/><text x="4" y="113">version</text>
<rect class="y" y="120" width="120" height="24"/><text x="4" y="137">issuer_fk</text>
<rect class="w" y="144" width="33" height="24"/><rect class="w" x="33" y="144" width="56.5" height="24"/><rect class="w" x="89.5" y="144" width="30.5" height="24"/>
<text x="4" y="161">&lt; 1</text><text class="e" x="85.5" y="161">0 rows</text><text class="e" x="116" y="161">1 &gt;</text>
</g>
<g id="metadata" transform="translate(644,3751)">
<rect class="h" width="98" height="24"/><text class="c" x="49" y="17">metadata</text>
<rect class="k" y="24" width="98" height="24"/><text x="4" y="41">pk</text>
<rect class="w" y="48" width="98" height="24"/><text x="4" y="65">created_time</text>
<rect class="w" y="72" width="98" height="24"/><text x="4" y="89">digest</text>
<rect class="w" y="96" width="98" height="24"/><text x="4" y="113">object_size</text>
<rect class="y" y="120" width="98" height="24"/><text x="4" y="137">status</text>
<rect class="y" y="144" width="98" height="24"/><text x="4" y="161">storage_id</text>
<rect class="w" y="168" width="98" height="24"/><text x="4" y="185">storage_path</text>
<rect class="w" y="192" width="16.6" height="24"/><rect class="w" x="16.6" y="192" width="52.4" height="24"/><rect class="w" x="69" y="192" width="29" height="24"/>
<text class="e" x="65" y="209">0 rows</text><text class="e" x="94" y="209">1 &gt;</text>
</g>
<g id="study" transform="translate(619,3996)">
<rect class="h" width="150" height="24"/><text class="c" x="75" y="17">study</text>
<rect class="k" y="24" width="150" height="24"/><text x="4" y="41">pk</text>
<rect class="y" y="48" width="150" height="24"/><text x="4" y="65">access_control_id</text>
<rect class="y" y="72" width="150" height="24"/><text x="4" y="89">access_time</text>
<rect class="y" y="96" width="150" height="24"/><text x="4" y="113">accession_no</text>
<rect class="y" y="120" width="150" height="24"/><text x="4" y="137">completeness</text>
<rect class="y" y="144" width="150" height="24"/><text x="4" y="161">created_time</text>
<rect class="y" y="168" width="150" height="24"/><text x="4" y="185">expiration_date</text>
<rect class="w" y="192" width="150" height="24"/><text x="4" y="209">expiration_exporter_id</text>
<rect class="y" y="216" width="150" height="24"/><text x="4" y="233">expiration_state</text>
<rect class="y" y="240" width="150" height="24"/><text x="4" y="257">ext_retrieve_aet</text>
<rect class="y" y="264" width="150" height="24"/><text x="4" y="281">failed_retrieves</text>
<rect class="w" y="288" width="150" height="24"/><text x="4" y="305">modified_time</text>
<rect class="y" y="312" width="150" height="24"/><text x="4" y="329">rejection_state</text>
<rect class="y" y="336" width="150" height="24"/><text x="4" y="353">study_size</text>
<rect class="y" y="360" width="150" height="24"/><text x="4" y="377">storage_ids</text>
<rect class="y" y="384" width="150" height="24"/><text x="4" y="401">study_custom1</text>
<rect class="y" y="408" width="150" height="24"/><text x="4" y="425">study_custom2</text>
<rect class="y" y="432" width="150" height="24"/><text x="4" y="449">study_custom3</text>
<rect class="y" y="456" width="150" height="24"/><text x="4" y="473">study_date</text>
<rect class="y" y="480" width="150" height="24"/><text x="4" y="497">study_desc</text>
<rect class="w" y="504" width="150" height="24"/><text x="4" y="521">study_id</text>
<rect class="y" y="528" width="150" height="24"/><text x="4" y="545">study_iuid</text>
<rect class="y" y="552" width="150" height="24"/><text x="4" y="569">study_time</text>
<rect class="w" y="576" width="150" height="24"/><text x="4" y="593">updated_time</text>
<rect class="w" y="600" width="150" height="24"/><text x="4" y="617">version</text>
<rect class="y" y="624" width="150" height="24"/><text x="4" y="641">dicomattrs_fk</text>
<rect class="y" y="648" width="150" height="24"/><text x="4" y="665">accno_issuer_fk</text>
<rect class="y" y="672" width="150" height="24"/><text x="4" y="689">patient_fk</text>
<rect class="y" y="696" width="150" height="24"/><text x="4" y="713">ref_phys_name_fk</text>
<rect class="w" y="720" width="50" height="24"/><rect class="w" x="50" y="720" width="60" height="24"/><rect class="w" x="110" y="720" width="40" height="24"/>
<text x="4" y="737">&lt; 4</text><text class="e" x="106" y="737">0 rows</text><text class="e" x="146" y="737">3 &gt;</text>
</g>
<g id="location" transform="translate(1294,4196)">
<rect class="h" width="98" height="24"/><text class="c" x="49" y="17">location</text>
<rect class="k" y="24" width="98" height="24"/><text x="4" y="41">pk</text>
<rect class="y" y="48" width="98" height="24"/><text x="4" y="65">created_time</text>
<rect class="w" y="72" width="98" height="24"/><text x="4" y="89">digest</text>
<rect class="y" y="96" width="98" height="24"/><text x="4" y="113">multi_ref</text>
<rect class="w" y="120" width="98" height="24"/><text x="4" y="137">object_type</text>
<rect class="w" y="144" width="98" height="24"/><text x="4" y="161">object_size</text>
<rect class="y" y="168" width="98" height="24"/><text x="4" y="185">status</text>
<rect class="y" y="192" width="98" height="24"/><text x="4" y="209">storage_id</text>
<rect class="w" y="216" width="98" height="24"/><text x="4" y="233">storage_path</text>
<rect class="w" y="240" width="98" height="24"/><text x="4" y="257">tsuid</text>
<rect class="y" y="264" width="98" height="24"/><text x="4" y="281">instance_fk</text>
<rect class="y" y="288" width="98" height="24"/><text x="4" y="305">uidmap_fk</text>
<rect class="w" y="312" width="27" height="24"/><rect class="w" x="27" y="312" width="54" height="24"/><rect class="w" x="81" y="312" width="17" height="24"/>
<text x="4" y="329">&lt; 2</text><text class="e" x="77" y="329">0 rows</text>
</g>
<g id="person_name" transform="translate(215,4447)">
<rect class="h" width="110" height="24"/><text class="c" x="55" y="17">person_name</text>
<rect class="k" y="24" width="110" height="24"/><text x="4" y="41">pk</text>
<rect class="y" y="48" width="110" height="24"/><text x="4" y="65">family_name</text>
<rect class="y" y="72" width="110" height="24"/><text x="4" y="89">given_name</text>
<rect class="y" y="96" width="110" height="24"/><text x="4" y="113">i_family_name</text>
<rect class="y" y="120" width="110" height="24"/><text x="4" y="137">i_given_name</text>
<rect class="y" y="144" width="110" height="24"/><text x="4" y="161">i_middle_name</text>
<rect class="w" y="168" width="110" height="24"/><text x="4" y="185">i_name_prefix</text>
<rect class="w" y="192" width="110" height="24"/><text x="4" y="209">i_name_suffix</text>
<rect class="y" y="216" width="110" height="24"/><text x="4" y="233">middle_name</text>
<rect class="w" y="240" width="110" height="24"/><text x="4" y="257">name_prefix</text>
<rect class="w" y="264" width="110" height="24"/><text x="4" y="281">name_suffix</text>
<rect class="y" y="288" width="110" height="24"/><text x="4" y="305">p_family_name</text>
<rect class="y" y="312" width="110" height="24"/><text x="4" y="329">p_given_name</text>
<rect class="y" y="336" width="110" height="24"/><text x="4" y="353">p_middle_name</text>
<rect class="w" y="360" width="110" height="24"/><text x="4" y="377">p_name_prefix</text>
<rect class="w" y="384" width="110" height="24"/><text x="4" y="401">p_name_suffix</text>
<rect class="w" y="408" width="23" height="24"/><rect class="w" x="23" y="408" width="54" height="24"/><rect class="w" x="77" y="408" width="33" height="24"/>
<text class="e" x="73" y="425">0 rows</text><text class="e" x="106" y="425">9 &gt;</text>
</g>
<g id="soundex_code" transform="translate(416,4712)">
<rect class="h" width="123" height="24"/><text class="c" x="61.5" y="17">soundex_code</text>
<rect class="k" y="24" width="123" height="24"/><text x="4" y="41">pk</text>
<rect class="y" y="48" width="123" height="24"/><text x="4" y="65">sx_code_value</text>
<rect class="y" y="72" width="123" height="24"/><text x="4" y="89">sx_pn_comp_part</text>
<rect class="y" y="96" width="123" height="24"/><text x="4" y="113">sx_pn_comp</text>
<rect class="y" y="120" width="123" height="24"/><text x="4" y="137">person_name_fk</text>
<rect class="w" y="144" width="42" height="24"/><rect class="w" x="42" y="144" width="56.5" height="24"/><rect class="w" x="98.5" y="144" width="24.5" height="24"/>
<text x="4" y="161">&lt; 1</text><text class="e" x="94.5" y="161">0 rows</text>
</g>
<g id="study_query_attrs" transform="translate(870,4512)">
<rect class="h" width="121" height="24"/><text class="c" x="60.5" y="17">study_query_attrs</text>
<rect class="k" y="24" width="121" height="24"/><text x="4" y="41">pk</text>
<rect class="w" y="48" width="121" height="24"/><text x="4" y="65">availability</text>
<rect class="w" y="72" width="121" height="24"/><text x="4" y="89">mods_in_study</text>
<rect class="w" y="96" width="121" height="24"/><text x="4" y="113">num_instances</text>
<rect class="w" y="120" width="121" height="24"/><text x="4" y="137">num_series</text>
<rect class="w" y="144" width="121" height="24"/><text x="4" y="161">retrieve_aets</text>
<rect class="w" y="168" width="121" height="24"/><text x="4" y="185">cuids_in_study</text>
<rect class="y" y="192" width="121" height="24"/><text x="4" y="209">view_id</text>
<rect class="y" y="216" width="121" height="24"/><text x="4" y="233">study_fk</text>
<rect class="w" y="240" width="41" height="24"/><rect class="w" x="41" y="240" width="56" height="24"/><rect class="w" x="97" y="240" width="24" height="24"/>
<text x="4" y="257">&lt; 1</text><text class="e" x="93" y="257">0 rows</text>
</g>
<g id="ups_req" transform="translate(866,4876)">
<rect class="h" width="128" height="24"/><text class="c" x="64" y="17">ups_req</text>
<rect class="k" y="24" width="128" height="24"/><text x="4" y="41">pk</text>
<rect class="y" y="48" width="128" height="24"/><text x="4" y="65">accession_no</text>
<rect class="y" y="72" width="128" height="24"/><text x="4" y="89">req_proc_id</text>
<rect class="y" y="96" width="128" height="24"/><text x="4" y="113">req_service</text>
<rect class="y" y="120" width="128" height="24"/><text x="4" y="137">study_iuid</text>
<rect class="y" y="144" width="128" height="24"/><text x="4" y="161">accno_issuer_fk</text>
<rect class="y" y="168" width="128" height="24"/><text x="4" y="185">req_phys_name_fk</text>
<rect class="y" y="192" width="128" height="24"/><text x="4" y="209">ups_fk</text>
<rect class="w" y="216" width="41.5" height="24"/><rect class="w" x="41.5" y="216" width="62.5" height="24"/><rect class="w" x="104" y="216" width="24" height="24"/>
<text x="4" y="233">&lt; 3</text><text class="e" x="100" y="233">0 rows</text>
</g>
<g id="uidmap" transform="translate(1100,4876)">
<rect class="h" width="97" height="24"/><text class="c" x="48.5" y="17">uidmap</text>
<rect class="k" y="24" width="97" height="24"/><text x="4" y="41">pk</text>
<rect class="w" y="48" width="97" height="24"/><text x="4" y="65">uidmap</text>
<rect class="w" y="72" width="15" height="24"/><rect class="w" x="15" y="72" width="54" height="24"/><rect class="w" x="69" y="72" width="28" height="24"/>
<text class="e" x="65" y="89">0 rows</text><text class="e" x="93" y="89">1 &gt;</text>
</g>
<text x="16" y="5155">Generated by SchemaSpy</text>
</svg>
